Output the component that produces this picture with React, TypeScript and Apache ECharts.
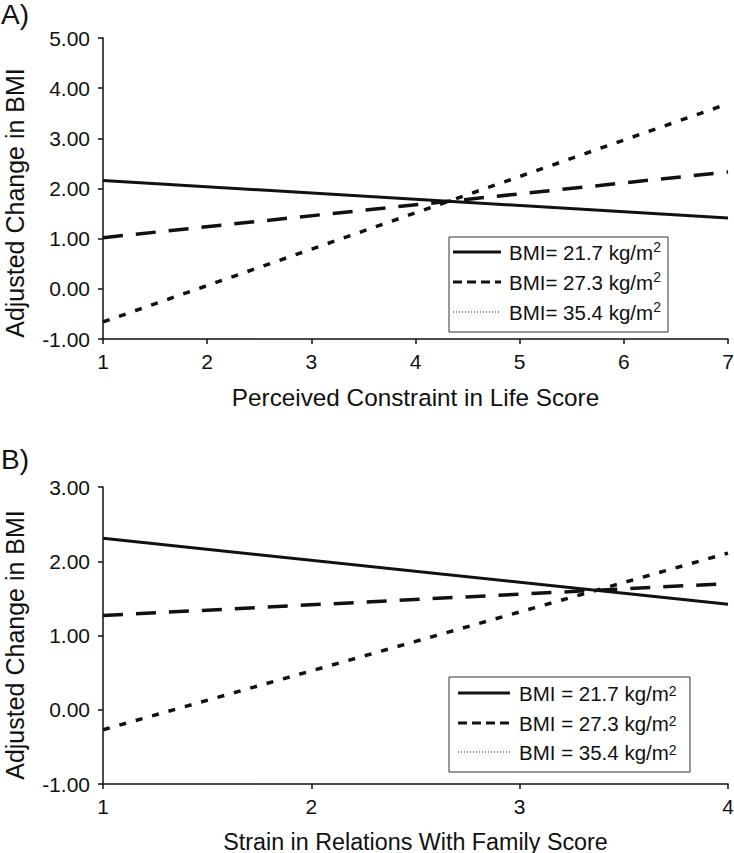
import React, { useEffect, useRef } from "react";
import * as echarts from "echarts";

// Panel A: Perceived Constraint in Life Score
const xA = [1, 7];
const solidA = [2.16, 1.41];
const dashA = [1.02, 2.33];
const dotA = [-0.66, 3.69];

// Panel B: Strain in Relations With Family Score
const xB = [1, 4];
const solidB = [2.31, 1.42];
const dashB = [1.27, 1.7];
const dotB = [-0.27, 2.11];

const legendValues = ["21.7", "27.3", "35.4"];
const yTitle = "Adjusted Change in BMI";
const xTitleA = "Perceived Constraint in Life Score";
const xTitleB = "Strain in Relations With Family Score";

const FONT = "Liberation Sans, Arial, sans-serif";
const INK = "#111";

const pairs = (xs: number[], ys: number[]) => xs.map((x, i) => [x, ys[i]]);

const lineStyles = [
  { type: "solid", width: 3 },
  { type: [20, 13], width: 3.5 },
  { type: [7, 10], width: 3.5 },
];

function legendGroup(
  x: number,
  y: number,
  w: number,
  h: number,
  rows: number[],
  sampleX0: number,
  sampleX1: number,
  textX: number,
  spaced: boolean
) {
  const children: any[] = [
    {
      type: "rect",
      shape: { x, y, width: w, height: h },
      style: { fill: "#fff", stroke: "#333", lineWidth: 1 },
    },
  ];
  const sampleDash: any[] = [null, [9, 5], [1, 2]];
  const sampleWidth = [3, 3, 1];
  rows.forEach((ry, i) => {
    children.push({
      type: "line",
      shape: { x1: sampleX0, y1: ry, x2: sampleX1, y2: ry },
      style: {
        stroke: INK,
        lineWidth: sampleWidth[i],
        lineDash: sampleDash[i] || undefined,
      },
    });
    children.push({
      type: "text",
      x: textX,
      y: ry,
      style: {
        text: `{a|BMI${spaced ? " " : ""}= ${legendValues[i]} kg/m}{s|2}`,
        verticalAlign: "middle",
        fill: INK,
        fontFamily: FONT,
        rich: {
          a: { fontSize: 20.5, fontFamily: FONT, fill: INK, lineHeight: 24 },
          s: spaced
            ? { fontSize: 14, fontFamily: FONT, fill: INK, padding: [0, 0, 4, 0], lineHeight: 24 }
            : { fontSize: 14, fontFamily: FONT, fill: INK, verticalAlign: "top", lineHeight: 14 },
        },
      },
    });
  });
  return { type: "group", children };
}

function yTitleText(cy: number) {
  return {
    type: "text",
    x: 15,
    y: cy,
    rotation: Math.PI / 2,
    style: {
      text: yTitle,
      fontSize: 25,
      fontFamily: FONT,
      fill: INK,
      align: "center",
      verticalAlign: "middle",
    },
  };
}

export default function App() {
  const ref = useRef<HTMLDivElement>(null);
  useEffect(() => {
    if (!ref.current) return;
    const chart = echarts.init(ref.current, null, { renderer: "svg" });
    const axisCommon = {
      axisTick: { show: true, length: 5, lineStyle: { color: INK, width: 1.5 } },
      splitLine: { show: false },
    };
    const yAxisOf = (grid: number, max: number) => ({
      type: "value",
      gridIndex: grid,
      min: -1,
      max,
      interval: 1,
      axisLine: { show: true, onZero: false, lineStyle: { color: INK, width: 1.5 } },
      axisLabel: {
        fontSize: 21,
        fontFamily: FONT,
        color: INK,
        margin: 13,
        formatter: (v: number) => v.toFixed(2),
      },
      ...axisCommon,
    });
    const xAxisOf = (grid: number, min: number, max: number, name: string, fs: number) => ({
      type: "value",
      gridIndex: grid,
      min,
      max,
      interval: 1,
      name,
      nameLocation: "middle",
      nameGap: 46,
      nameTextStyle: { fontSize: fs, fontFamily: FONT, color: INK, verticalAlign: "top" },
      axisLine: { show: true, onZero: false, lineStyle: { color: INK, width: 1.5 } },
      axisLabel: { fontSize: 21, fontFamily: FONT, color: INK, margin: 12 },
      ...axisCommon,
    });
    const mk = (name: string, data: number[][], i: number, ax: number) => ({
      type: "line",
      name,
      xAxisIndex: ax,
      yAxisIndex: ax,
      data,
      showSymbol: false,
      symbol: "none",
      lineStyle: { color: INK, ...lineStyles[i] },
      silent: true,
    });
    const names = legendValues.map((v) => `BMI = ${v} kg/m2`);
    chart.setOption({
      animation: false,
      backgroundColor: "#fff",
      textStyle: { fontFamily: FONT },
      grid: [
        { left: 103, right: 6, top: 38, height: 301, outerBoundsMode: "none" },
        { left: 103, right: 6, top: 487, height: 297, outerBoundsMode: "none" },
      ],
      xAxis: [xAxisOf(0, 1, 7, xTitleA, 24.3), xAxisOf(1, 1, 4, xTitleB, 23.3)],
      yAxis: [yAxisOf(0, 5), yAxisOf(1, 3)],
      series: [
        mk(names[0], pairs(xA, solidA), 0, 0),
        mk(names[1], pairs(xA, dashA), 1, 0),
        mk(names[2], pairs(xA, dotA), 2, 0),
        mk(names[0], pairs(xB, solidB), 0, 1),
        mk(names[1], pairs(xB, dashB), 1, 1),
        mk(names[2], pairs(xB, dotB), 2, 1),
      ],
      graphic: [
        {
          type: "text",
          x: 1,
          y: 14,
          style: { text: "A)", fontSize: 28, fontFamily: FONT, fill: INK, verticalAlign: "middle" },
        },
        {
          type: "text",
          x: 1,
          y: 459,
          style: { text: "B)", fontSize: 28, fontFamily: FONT, fill: INK, verticalAlign: "middle" },
        },
        yTitleText(203),
        yTitleText(645),
        legendGroup(449, 237, 219, 95, [252, 282, 312], 453, 501, 509, false),
        legendGroup(449, 677, 241, 95, [693, 723, 752], 458, 510, 519, true),
      ],
    });
    return () => chart.dispose();
  }, []);
  return (
    <div
      ref={ref}
      style={{ position: "absolute", left: 0, top: 0, width: 734, height: 853, background: "#fff" }}
    />
  );
}
